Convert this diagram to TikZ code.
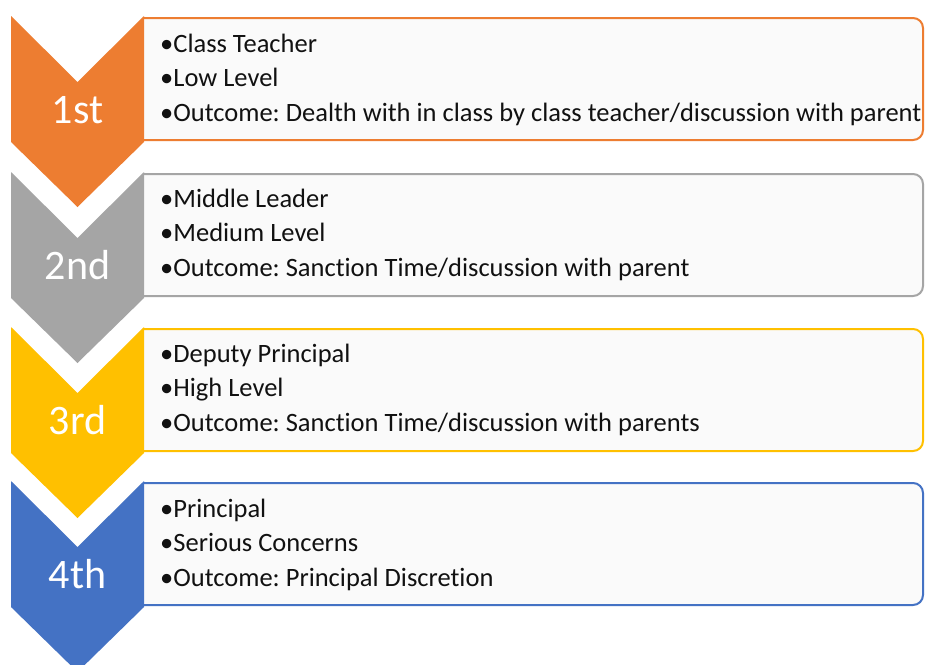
\documentclass[tikz,border=0pt]{standalone}
\usepackage{fontspec}
\setmainfont[Ligatures=NoCommon]{Carlito}
\frenchspacing
\definecolor{corange}{HTML}{ED7D31}
\definecolor{cgray}{HTML}{A5A5A5}
\definecolor{cyellow}{HTML}{FFC000}
\definecolor{cblue}{HTML}{4472C4}
\definecolor{boxfill}{HTML}{FAFAFA}
\definecolor{txt}{HTML}{111111}
\begin{document}
\begin{tikzpicture}[x=1pt,y=-1pt,
  chev/.style={fill=#1, draw=none},
  infobox/.style={draw=#1, line width=2pt, fill=boxfill, rounded corners=10pt},
  numlbl/.style={anchor=base, text=white, font=\fontsize{42}{42}\selectfont, inner sep=0pt},
  bullet/.style={anchor=base west, text=txt, font=\fontsize{26.5}{26.5}\selectfont, inner sep=0pt}]
\useasboundingbox (0,0) rectangle (925,664);
\clip (0,0) rectangle (925,664);
\fill[white] (0,0) rectangle (925,664);
\foreach \t/\c/\n [count=\i] in {16/corange/1st,172/cgray/2nd,327/cyellow/3rd,481/cblue/4th}{
  \draw[infobox=\c] (144,\t+2) -- (923,\t+2) -- (923,\t+124) -- (144,\t+124);
  \fill[chev=\c] (11,\t) -- (77.5,\t+66) -- (144,\t) -- (144,\t+126) -- (77.5,\t+191) -- (11,\t+126) -- cycle;
  \node[numlbl] (num\i) at (77.5,\t+107) {\n};
}
\node[bullet] (a1) at (160,52) {•Class Teacher};
\node[bullet] (a2) at (160,86) {•Low Level};
\node[bullet] (a3) at (160,121) {•Outcome: Dealth with in class by class teacher/discussion with parent};
\node[bullet] (b1) at (160,207) {•Middle Leader};
\node[bullet] (b2) at (160,241) {•Medium Level};
\node[bullet] (b3) at (160,276) {•Outcome: Sanction Time/discussion with parent};
\node[bullet] (c1) at (160,362) {•Deputy Principal};
\node[bullet] (c2) at (160,396) {•High Level};
\node[bullet] (c3) at (160,431) {•Outcome: Sanction Time/discussion with parents};
\node[bullet] (d1) at (160,517) {•Principal};
\node[bullet] (d2) at (160,551) {•Serious Concerns};
\node[bullet] (d3) at (160,586) {•Outcome: Principal Discretion};
\end{tikzpicture}
\end{document}
